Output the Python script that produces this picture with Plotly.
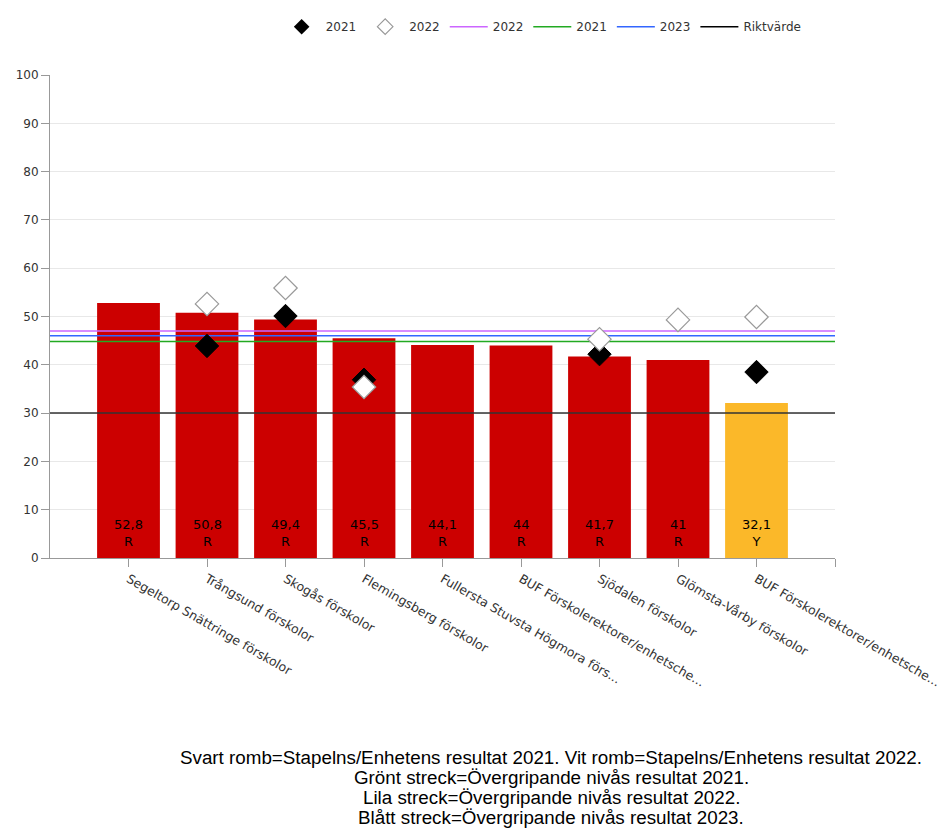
import plotly.graph_objects as go

categories = [
    "Segeltorp Snättringe förskolor",
    "Trångsund förskolor",
    "Skogås förskolor",
    "Flemingsberg förskolor",
    "Fullersta Stuvsta Högmora förs...",
    "BUF Förskolerektorer/enhetsche...",
    "Sjödalen förskolor",
    "Glömsta-Vårby förskolor",
    "BUF Förskolerektorer/enhetsche...",
]
values = [52.8, 50.8, 49.4, 45.5, 44.1, 44, 41.7, 41, 32.1]
value_labels = ["52,8", "50,8", "49,4", "45,5", "44,1", "44", "41,7", "41", "32,1"]
grades = ["R", "R", "R", "R", "R", "R", "R", "R", "Y"]
res_2021 = [None, 43.9, 50.1, 36.9, None, None, 42.2, None, 38.5]
res_2022 = [None, 52.6, 55.9, 35.4, None, None, 45.3, 49.3, 49.9]
level_2022 = 47.0
level_2021 = 44.8
level_2023 = 46.0
riktvarde = 30
footer_lines = [
    "Svart romb=Stapelns/Enhetens resultat 2021. Vit romb=Stapelns/Enhetens resultat 2022.",
    "Grönt streck=Övergripande nivås resultat 2021.",
    "Lila streck=Övergripande nivås resultat 2022.",
    "Blått streck=Övergripande nivås resultat 2023.",
]

grade_colors = {"R": "#CC0000", "Y": "#FBB829"}
font_family = "DejaVu Sans"

x_idx = list(range(len(categories)))
fig = go.Figure()

fig.add_trace(go.Bar(
    x=x_idx, y=values, width=0.8,
    marker=dict(color=[grade_colors[g] for g in grades], line=dict(width=0)),
    showlegend=False, hoverinfo="skip",
))

xline = [-1, 9]
fig.add_trace(go.Scatter(x=xline, y=[riktvarde] * 2, mode="lines",
                         line=dict(color="#333333", width=1.5), showlegend=False))
fig.add_trace(go.Scatter(x=xline, y=[level_2022] * 2, mode="lines", showlegend=False,
                         line=dict(color="#CC66FF", width=1.5)))
fig.add_trace(go.Scatter(x=xline, y=[level_2023] * 2, mode="lines", showlegend=False,
                         line=dict(color="#3366FF", width=1.5)))
fig.add_trace(go.Scatter(x=xline, y=[level_2021] * 2, mode="lines", showlegend=False,
                         line=dict(color="#22AA22", width=1.5)))

fig.add_trace(go.Scatter(x=x_idx, y=res_2021, mode="markers", showlegend=False,
                         marker=dict(symbol="diamond", size=18, color="black",
                                     line=dict(color="black", width=1))))
fig.add_trace(go.Scatter(x=x_idx, y=res_2022, mode="markers", showlegend=False,
                         marker=dict(symbol="diamond", size=18, color="white",
                                     line=dict(color="#999999", width=1.2))))

# legend entries
leg = [("2021", "markers", dict(symbol="diamond", size=12, color="black")),
       ("2022", "markers", dict(symbol="diamond", size=12, color="white",
                                 line=dict(color="#999999", width=1.2))),
       ("2022", "lines", "#CC66FF"),
       ("2021", "lines", "#22AA22"),
       ("2023", "lines", "#3366FF"),
       ("Riktvärde", "lines", "black")]
for name, mode, st in leg:
    if mode == "markers":
        fig.add_trace(go.Scatter(x=[None], y=[None], mode="markers", name=name, marker=st))
    else:
        fig.add_trace(go.Scatter(x=[None], y=[None], mode="lines", name=name,
                                 line=dict(color=st, width=1.5)))

annotations = []
for i, (v, g) in enumerate(zip(value_labels, grades)):
    annotations.append(dict(
        x=i, y=0, xref="x", yref="y", yanchor="bottom", xanchor="center",
        yshift=7, showarrow=False, text=f"{v}<br>{g}",
        font=dict(family=font_family, size=13, color="black"),
    ))
for k, line in enumerate(footer_lines):
    annotations.append(dict(
        xref="paper", yref="paper", x=(551 - 50) / 785, y=(558 - 757 - 20 * k) / 483,
        xanchor="center", yanchor="middle", showarrow=False,
        font=dict(family="Liberation Sans", size=18.8, color="black"), text=line,
    ))

fig.update_layout(
    width=946, height=830,
    margin=dict(l=50, r=111, t=75, b=272, autoexpand=False),
    plot_bgcolor="white", paper_bgcolor="white",
    font=dict(family=font_family, size=12, color="#333333"),
    legend=dict(orientation="h", x=0.29, y=1.10, xanchor="left", yanchor="middle",
                font=dict(size=12, color="#333333"), itemwidth=38, tracegroupgap=0),
    xaxis=dict(
        range=[-1, 9], tickmode="array", tickvals=list(range(10)),
        ticktext=categories + [""], tickangle=30, automargin=False,
        showgrid=False, showline=True, linecolor="#999999", linewidth=1,
        ticks="outside", ticklen=8, tickcolor="#999999", zeroline=False,
        tickfont=dict(size=12.5, color="#333333"),
    ),
    yaxis=dict(
        range=[0, 100], dtick=10, showgrid=True, gridcolor="#e8e8e8",
        showline=True, linecolor="#999999", linewidth=1, automargin=False,
        ticks="outside", ticklen=8, tickcolor="#999999", zeroline=False,
        tickfont=dict(size=12, color="#333333"),
    ),
    annotations=annotations,
)

fig.write_html("out.html")
